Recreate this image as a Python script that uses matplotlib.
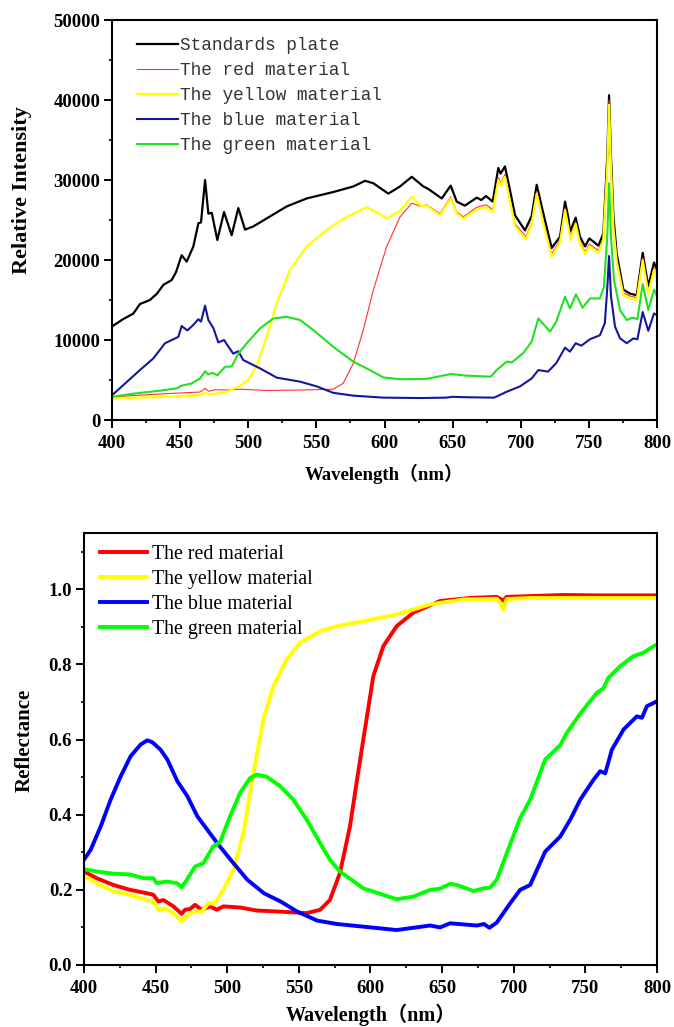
import numpy as np
import matplotlib
matplotlib.use('Agg')
from matplotlib import pyplot as plt
from matplotlib.ticker import MultipleLocator

# ---- top panel: relative intensity ----
std_wl = [400, 408, 415.6, 420.5, 427.8, 433, 437.7, 443.8, 447, 451.1, 454.8, 459.7, 463.4, 465.3,
          468.3, 470.7, 473.2, 477.3, 482.2, 487.8, 492.7, 497.6, 503.7, 513.5, 528.2, 542.9, 562.4,
          577.1, 585.7, 591.8, 602.8, 611.4, 620, 628.5, 632, 642, 648.6, 653, 659, 667.7, 671, 674.5,
          679.4, 683.5, 685.2, 688.4, 692, 695.8, 703.1, 708, 711.7, 716.6, 722.7, 728.8, 732.5, 735,
          736.1, 740.3, 743.5, 747.2, 750.3, 757, 760.6, 763.5, 764.8, 766.2, 768, 770.4, 775.3, 780.2,
          785.1, 789.5, 793.6, 797.8, 800]
std_val = [11700, 12600, 13300, 14500, 15000, 15800, 16900, 17500, 18500, 20600, 19800, 21700, 24600,
           24700, 30000, 25800, 25900, 22500, 26000, 23100, 26500, 23800, 24200, 25200, 26700, 27700,
           28500, 29200, 29900, 29600, 28300, 29200, 30400, 29200, 28900, 27700, 29300, 27300, 26800,
           27800, 27500, 28000, 27300, 31500, 30800, 31700, 28800, 25600, 23700, 25500, 29400, 25800,
           21500, 22900, 27300, 25200, 23500, 25300, 22900, 21700, 22700, 21800, 23300, 33000, 40600,
           33000, 25500, 20800, 16300, 15800, 15600, 20900, 16700, 19700, 18800]

red_i_wl = [400, 440, 464.6, 468.3, 471, 476, 484, 494, 513.5, 538, 562.4, 569.7, 577.1, 584.4, 591.8,
            601.6, 611.4, 620, 627, 631, 640.7, 648.6, 653, 658, 667.7, 674.5, 679.4, 683.5, 685.5,
            688.4, 695.8, 704, 708, 711.7, 716.6, 722.7, 728.8, 732.5, 736.6, 740.3, 743.5, 747.2,
            750.3, 757, 760.6, 763.5, 764.8, 766.2, 768, 770.4, 775.3, 780.2, 785.1, 789.5, 793.6,
            797.8, 800]
red_i_val = [2900, 3300, 3500, 3950, 3600, 3800, 3750, 3850, 3700, 3750, 3850, 4600, 7100, 11250, 16250,
             21700, 25400, 27100, 26700, 26900, 25800, 27900, 26000, 25400, 26600, 26900, 26300, 30300,
             29600, 30700, 24500, 22900, 24800, 28600, 24800, 20700, 22500, 26500, 22800, 24800, 22300,
             21000, 22000, 21200, 22800, 32000, 40000, 32000, 24300, 20100, 15900, 15500, 15300, 20300,
             16100, 19000, 17900]

yel_i_wl = [400, 420, 440, 464.6, 468, 472, 484, 494, 500, 506, 513.5, 520.9, 530.6, 542.9, 557.6,
            572.2, 586.9, 594, 601.6, 611, 620, 627.3, 631, 640.7, 648.6, 653, 658, 667.7, 674.5,
            679.4, 683.5, 685.5, 688.4, 695.8, 704, 708, 711.7, 716.6, 722.7, 728.8, 732.5, 736.6,
            740.3, 743.5, 747.2, 750.3, 757, 760.6, 763.5, 764.8, 766.2, 768, 770.4, 775.3, 780.2,
            785.1, 789.5, 793.6, 797.8, 800]
yel_i_val = [2700, 2800, 2900, 3100, 3400, 3200, 3500, 4300, 5000, 6700, 10400, 14600, 18750, 21700,
             23750, 25400, 26600, 26000, 25200, 26100, 27900, 26700, 26800, 25600, 27700, 25800, 25200,
             26300, 26600, 26000, 30000, 29300, 30400, 24200, 22600, 24500, 28300, 24500, 20400, 22200,
             26250, 22500, 24500, 22000, 20750, 21700, 20900, 22500, 31500, 39400, 31500, 24000, 19800,
             15600, 15200, 15000, 20000, 15800, 18750, 17600]

blu_i_wl = [400, 405.9, 420.5, 430.3, 438.9, 448.7, 451.1, 455.3, 459.7, 463.4, 465.3, 468.3, 470.7,
            474.4, 478, 482.2, 485.3, 489, 492.7, 496.3, 508.6, 520.9, 538, 550.3, 562.4, 577.1, 599.1,
            626, 645, 650, 660, 680.5, 689.7, 699.4, 708, 712.9, 720, 726, 732.5, 736.1, 740.3, 744.5,
            750.8, 758.1, 761.7, 763.5, 764.8, 766.2, 769.2, 772.9, 777.8, 782.6, 785.6, 789.5, 793.6,
            797.8, 800]
blu_i_val = [3100, 4000, 6250, 7700, 9600, 10400, 11750, 11200, 11900, 12600, 12300, 14300, 12500, 11500,
             9700, 10000, 9200, 8300, 8600, 7500, 6460, 5300, 4800, 4200, 3400, 3050, 2800, 2750, 2800,
             2900, 2850, 2800, 3540, 4200, 5200, 6250, 6050, 7100, 9050, 8550, 9600, 9300, 10100, 10600,
             12100, 16500, 20500, 15500, 11660, 10200, 9600, 10200, 10100, 13500, 11150, 13330, 13100]

grn_i_wl = [400, 415.6, 435.2, 447.5, 451.1, 458.5, 464.6, 468.3, 470.5, 473.7, 477.3, 483, 487.8,
            492.7, 498.9, 508.6, 518.4, 528.2, 538, 547.7, 562.4, 577.1, 586.9, 599.1, 611.4, 631,
            648.6, 660, 678, 682.3, 689.7, 693.4, 702, 708, 712.9, 721.5, 726, 732.5, 736.1, 740.5,
            745.4, 750.8, 758.1, 761, 763.5, 764.8, 766.2, 768.4, 772.9, 777.8, 782.1, 785.6, 789.5,
            793.6, 797.8, 800]
grn_i_val = [2900, 3300, 3670, 3960, 4300, 4580, 5200, 6100, 5700, 5900, 5600, 6650, 6700, 8300, 9600,
             11450, 12700, 12900, 12500, 11250, 9150, 7300, 6450, 5330, 5100, 5150, 5750, 5550, 5420,
             6250, 7300, 7200, 8400, 9800, 12700, 11050, 12300, 15400, 13950, 15700, 14050, 15200, 15200,
             16650, 23000, 29600, 23000, 17500, 13750, 12500, 12800, 12600, 17000, 13750, 16300, 15500]

# ---- bottom panel: reflectance ----
red_r_wl = [400, 408.8, 420.5, 432.1, 443.7, 448.4, 451.9, 455.4, 462.4, 468.2, 470.5, 474, 477.5,
            482.2, 488, 492.7, 497.3, 509, 520.6, 536.9, 555.5, 564.9, 571.7, 578.7, 585.7, 590.3, 595,
            602, 609, 618.3, 629.9, 648.5, 669.5, 688.1, 692.7, 695, 711.3, 734.6, 757.9, 800]
red_r_val = [0.249, 0.231, 0.213, 0.200, 0.191, 0.187, 0.169, 0.173, 0.156, 0.136, 0.147, 0.149, 0.160,
             0.147, 0.156, 0.147, 0.156, 0.153, 0.145, 0.142, 0.138, 0.147, 0.173, 0.245, 0.369, 0.485,
             0.600, 0.769, 0.849, 0.902, 0.938, 0.969, 0.977, 0.980, 0.970, 0.980, 0.982, 0.985, 0.984,
             0.984]

yel_r_wl = [400, 408.8, 420.5, 432.1, 443.7, 448.4, 451.9, 456.5, 462.4, 468.2, 471.7, 477.5, 482.2,
            486.8, 491.4, 497.3, 504.3, 511.3, 518.3, 525.2, 532.2, 541.5, 550.8, 564.9, 578.8, 595,
            618.3, 641.6, 664.9, 688.1, 690.5, 692.7, 695, 711.3, 757.9, 800]
yel_r_val = [0.237, 0.218, 0.196, 0.187, 0.173, 0.169, 0.147, 0.151, 0.138, 0.116, 0.131, 0.142, 0.142,
             0.164, 0.164, 0.200, 0.253, 0.351, 0.511, 0.653, 0.742, 0.813, 0.858, 0.889, 0.904, 0.915,
             0.933, 0.960, 0.973, 0.975, 0.965, 0.945, 0.974, 0.977, 0.977, 0.977]

blu_r_wl = [400, 404.7, 411.7, 418.6, 425.6, 432.6, 439.6, 444.2, 447.7, 453.5, 458.2, 465.2, 472.2,
            479.1, 486.1, 493.1, 502.4, 514, 525.6, 537.3, 548.9, 562.9, 576.8, 595, 618.3, 641.6,
            648.6, 655.6, 674.2, 679.3, 683, 688.2, 697.5, 704.5, 711.5, 722, 732.5, 739.5, 746.4,
            755.7, 760.4, 763.9, 768.5, 776.7, 786, 789.5, 793, 800]
blu_r_val = [0.280, 0.307, 0.369, 0.440, 0.502, 0.556, 0.587, 0.598, 0.593, 0.573, 0.547, 0.489, 0.449,
             0.396, 0.360, 0.324, 0.280, 0.227, 0.191, 0.169, 0.142, 0.118, 0.109, 0.102, 0.093, 0.105,
             0.100, 0.111, 0.105, 0.109, 0.099, 0.113, 0.164, 0.200, 0.213, 0.302, 0.342, 0.387, 0.440,
             0.493, 0.516, 0.510, 0.573, 0.627, 0.662, 0.658, 0.689, 0.702]

grn_r_wl = [400, 408.8, 420.5, 432.1, 441.4, 448.4, 450.7, 457.7, 464.7, 468.2, 471.7, 477.5, 483.3,
            490.3, 495, 502, 509, 516, 520.6, 527.6, 536.9, 546.2, 555.5, 564.9, 571.7, 578.7, 595,
            618.3, 630, 641.6, 648.6, 655.6, 660.2, 671.9, 678.9, 683.5, 688.2, 695.2, 704.5, 711.5,
            722, 732.5, 737.1, 746.4, 757.9, 762.5, 766, 774.2, 783.5, 790.5, 798.6, 800]
grn_r_val = [0.255, 0.249, 0.243, 0.241, 0.231, 0.231, 0.218, 0.222, 0.218, 0.207, 0.226, 0.262, 0.271,
             0.316, 0.327, 0.396, 0.458, 0.498, 0.507, 0.501, 0.476, 0.440, 0.387, 0.324, 0.280, 0.249,
             0.204, 0.175, 0.182, 0.200, 0.203, 0.216, 0.213, 0.197, 0.204, 0.206, 0.227, 0.298, 0.391,
             0.440, 0.547, 0.585, 0.618, 0.669, 0.724, 0.736, 0.764, 0.795, 0.822, 0.831, 0.851, 0.851]

serif = ['Liberation Serif', 'Noto Sans CJK SC']
tick_font = {'family': 'Liberation Serif', 'weight': 'bold', 'size': 13.5}

fig = plt.figure(figsize=(6.74, 10.27), dpi=100)
ax1 = fig.add_axes([0.1662, 0.5910, 0.8086, 0.3895])
ax2 = fig.add_axes([0.1246, 0.0604, 0.8501, 0.4206])

ax1.plot(std_wl, std_val, color='black', lw=1.6, label='Standards plate')
ax1.plot(red_i_wl, red_i_val, color='#FF3030', lw=0.8, label='The red material')
ax1.plot(yel_i_wl, yel_i_val, color='#FFFF00', lw=1.6, label='The yellow material')
ax1.plot(blu_i_wl, blu_i_val, color='#15159F', lw=1.5, label='The blue material')
ax1.plot(grn_i_wl, grn_i_val, color='#22E022', lw=1.5, label='The green material')
ax1.set_xlim(400, 800)
ax1.set_ylim(0, 50000)
ax1.xaxis.set_major_locator(MultipleLocator(50))
ax1.xaxis.set_minor_locator(MultipleLocator(25))
ax1.yaxis.set_major_locator(MultipleLocator(10000))
ax1.yaxis.set_minor_locator(MultipleLocator(5000))
leg1 = ax1.legend(loc='upper left', bbox_to_anchor=(0.046, 0.958), frameon=False, borderpad=0,
                  borderaxespad=0, handlelength=2.3, handletextpad=0.1, labelspacing=0.45,
                  prop={'family': 'Liberation Mono', 'size': 12.8})
for t in leg1.get_texts():
    t.set_color('#333333')
ax1.set_xlabel('Wavelength（nm）', family=serif, weight='bold', size=13.5)
ax1.xaxis.set_label_coords(0.5, -0.11)
ax1.set_ylabel('Relative Intensity', family=serif, weight='bold', size=16, va='center')
ax1.yaxis.set_label_coords(-0.165, 0.575)

ax2.plot(red_r_wl, red_r_val, color='#FF0000', lw=2.8, label='The red material')
ax2.plot(yel_r_wl, yel_r_val, color='#FFFF00', lw=2.8, label='The yellow material')
ax2.plot(blu_r_wl, blu_r_val, color='#0000FF', lw=2.8, label='The blue material')
ax2.plot(grn_r_wl, grn_r_val, color='#00FF00', lw=2.8, label='The green material')
ax2.set_xlim(400, 800)
ax2.set_ylim(0, 1.15)
ax2.xaxis.set_major_locator(MultipleLocator(50))
ax2.xaxis.set_minor_locator(MultipleLocator(25))
ax2.yaxis.set_major_locator(MultipleLocator(0.2))
ax2.yaxis.set_minor_locator(MultipleLocator(0.1))
ax2.legend(loc='upper left', bbox_to_anchor=(0.028, 0.972), frameon=False, borderpad=0,
           borderaxespad=0, handlelength=2.36, handletextpad=0.25, labelspacing=0.3,
           prop={'family': 'Liberation Serif', 'size': 14.3})
ax2.set_xlabel('Wavelength（nm）', family=serif, weight='bold', size=14.5)
ax2.xaxis.set_label_coords(0.5, -0.09)
ax2.set_ylabel('Reflectance', family=serif, weight='bold', size=15, va='center')
ax2.yaxis.set_label_coords(-0.103, 0.52)

for ax in (ax1, ax2):
    for s in ax.spines.values():
        s.set_linewidth(1.5)
    ax.tick_params(which='major', direction='out', length=5.5, width=1.4, pad=3)
    ax.tick_params(which='minor', direction='out', length=2.5, width=1.2)
    ax.tick_params(axis='x', which='major', pad=5)
    for lab in ax.get_xticklabels() + ax.get_yticklabels():
        lab.set_fontproperties(tick_font)

ax2.yaxis.set_major_formatter(matplotlib.ticker.FormatStrFormatter('%.1f'))
for lab in ax2.get_yticklabels():
    lab.set_fontproperties(tick_font)

plt.savefig('out.png', dpi=100)
